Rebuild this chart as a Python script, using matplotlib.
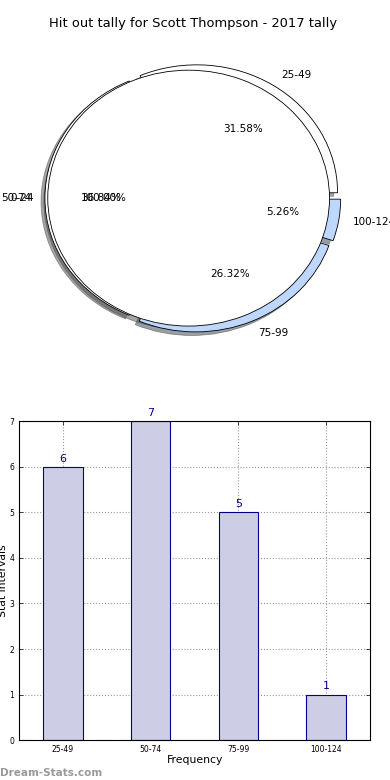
import numpy as np
import matplotlib
matplotlib.use('Agg')
import matplotlib.pyplot as plt

# hit out tally data
intervals = ['25-49', '50-74', '75-99', '100-124']
counts = [6, 7, 5, 1]
pie_colors = ['white', 'white', '#bdd7fd', '#bdd7fd']
overlay_label = ['0-24']
overlay_value = [1]

fig = plt.figure(figsize=(3.9, 7.8), dpi=100)

# pie (drawn twice, as in the original)
ax1 = fig.add_axes([0.043, 0.541, 0.903, 0.410])
ax1.pie(counts, labels=intervals, colors=pie_colors, explode=[0.05] * 4,
        autopct='%1.2f%%', shadow=True,
        wedgeprops={'edgecolor': 'black', 'linewidth': 0.6},
        textprops={'fontsize': 7.5})
ax1.pie(overlay_value, labels=overlay_label, colors=['white'], explode=[0.03],
        autopct='%1.2f%%', shadow=True,
        wedgeprops={'edgecolor': 'black', 'linewidth': 0.6},
        textprops={'fontsize': 7.5})
ax1.set_aspect('auto')
ax1.set_xlim(-1.25, 1.25)
ax1.set_ylim(-1.25, 1.25)
ax1.set_title('Hit out tally for Scott Thompson - 2017 tally', fontsize=9.4, pad=8)

# bar chart
ax2 = fig.add_axes([0.049, 0.051, 0.900, 0.409])
x = np.arange(len(intervals))
ax2.bar(x, counts, width=0.45, color='#cdcde6', edgecolor='#00008b', linewidth=0.8, zorder=2)
for xi, c in zip(x, counts):
    ax2.text(xi, c + 0.07, str(c), ha='center', va='bottom', fontsize=8, color='#00008b')
ax2.set_xlim(-0.5, 3.5)
ax2.set_ylim(0, 7)
ax2.set_xticks(x)
ax2.set_xticklabels(intervals)
ax2.tick_params(labelsize=5.5, direction='in', top=True, right=True, length=3, width=0.5)
ax2.grid(True, linestyle=':', color='#999999', linewidth=0.8, zorder=0)
ax2.set_axisbelow(True)
ax2.set_xlabel('Frequency', fontsize=7.8, labelpad=1)
ax2.set_ylabel('Stat intervals', fontsize=7.8, labelpad=1)
for s in ax2.spines.values():
    s.set_linewidth(0.8)

fig.text(0.0, 0.005, 'Dream-Stats.com', fontsize=7.5, color='#999999', fontweight='bold')

fig.savefig('out.png', dpi=100)
